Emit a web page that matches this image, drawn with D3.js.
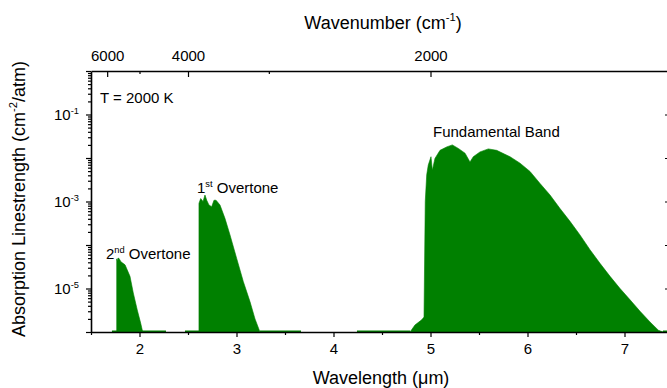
<!DOCTYPE html>
<html>
<head>
<meta charset="utf-8">
<script src="https://cdn.jsdelivr.net/npm/d3@7"></script>
<style>
  body { margin: 0; background: #fff; }
  svg text { font-family: "Liberation Sans", Arial, Helvetica, sans-serif; fill: #000; }
</style>
</head>
<body>
<svg id="chart" width="667" height="388"></svg>
<script>
// CO absorption linestrength envelopes at T = 2000 K
// wavelength in micrometres, linestrength in cm^-2/atm
const secondOvertoneWl = [1.765, 1.772, 1.778, 1.789, 1.809, 1.851, 1.902, 1.936, 1.977, 2.012, 2.033];
const secondOvertoneS  = [4.8e-5, 4.3e-5, 5.0e-5, 4.9e-5, 4.1e-5, 3.5e-5, 1.9e-5, 7.9e-6, 3.2e-6, 1.6e-6, 1.0e-6];

const firstOvertoneWl = [2.613, 2.631, 2.655, 2.675, 2.693, 2.716, 2.744, 2.768, 2.789, 2.830, 2.881, 2.933, 3.002, 3.070, 3.139, 3.191, 3.242];
const firstOvertoneS  = [9.1e-4, 1.17e-3, 1.0e-3, 1.41e-3, 1.07e-3, 8.3e-4, 7.6e-4, 1.07e-3, 1.07e-3, 8.3e-4, 4.1e-4, 1.7e-4, 4.9e-5, 1.45e-5, 5.0e-6, 2.0e-6, 1.0e-6];

const fundamentalWl = [4.789, 4.840, 4.909, 4.933, 4.946, 4.961, 4.977, 5.005, 5.019, 5.046, 5.098, 5.167, 5.225, 5.287, 5.356, 5.407, 5.441, 5.510, 5.596, 5.682, 5.820, 5.923, 6.026, 6.129, 6.232, 6.335, 6.438, 6.541, 6.644, 6.747, 6.851, 6.954, 7.057, 7.160, 7.263, 7.349, 7.397];
const fundamentalS  = [1.0e-6, 1.45e-6, 1.9e-6, 2.2e-6, 1.0e-3, 4.1e-3, 6.9e-3, 1.07e-2, 5.2e-3, 9.8e-3, 1.5e-2, 1.8e-2, 2.0e-2, 1.66e-2, 1.29e-2, 8.1e-3, 1.07e-2, 1.38e-2, 1.62e-2, 1.5e-2, 1.07e-2, 7.6e-3, 4.9e-3, 2.6e-3, 1.41e-3, 6.9e-4, 3.5e-4, 1.7e-4, 7.8e-5, 3.8e-5, 1.9e-5, 1.0e-5, 5.5e-6, 3.0e-6, 1.7e-6, 1.1e-6, 1.0e-6];

// wavelength ranges holding only very weak lines near the floor
const weakLineStart = [1.716, 2.026, 2.469, 3.242, 4.242, 7.397];
const weakLineEnd   = [1.768, 2.273, 2.624, 3.665, 4.789, 7.5];

// axis ticks
const wlMajorTicks = [2, 3, 4, 5, 6, 7];
const wlMinorTicks = [1.5, 2.5, 3.5, 4.5, 5.5, 6.5, 7.5];
const wnMajorTicks = [6000, 4000, 2000];
const wnMinorTicks = [5000, 3000];
const sDecadeTicks = [1, 1e-1, 1e-2, 1e-3, 1e-4, 1e-5, 1e-6];
const sLabelTicks  = [1e-1, 1e-3, 1e-5];

const bandColor = "#008000";
const tickFont = 15;
const titleFont = 18;
const noteFont = 15;
const svg = d3.select("#chart");

const x = d3.scaleLinear().domain([1.5, 7.5]).range([91, 673]);
const y = d3.scaleLog().domain([1e-6, 1]).range([332, 71]);

const floor = 1e-6;
const area = d3.area()
  .x(d => x(d[0]))
  .y0(y(floor))
  .y1(d => y(d[1]));

const bands = [
  d3.zip(secondOvertoneWl, secondOvertoneS),
  d3.zip(firstOvertoneWl, firstOvertoneS),
  d3.zip(fundamentalWl, fundamentalS)
];

const plot = svg.append("g");
plot.selectAll("path.band")
  .data(bands)
  .join("path")
  .attr("class", "band")
  .attr("d", area)
  .attr("fill", bandColor)
  .attr("stroke", bandColor)
  .attr("stroke-width", 0.6);

// weak-line floor segments
plot.selectAll("rect.weak")
  .data(d3.zip(weakLineStart, weakLineEnd))
  .join("rect")
  .attr("class", "weak")
  .attr("x", d => x(d[0]))
  .attr("width", d => x(d[1]) - x(d[0]))
  .attr("y", y(floor) - 1.5)
  .attr("height", 2)
  .attr("fill", bandColor);

// superscript-aware text helper: parts are [string, isSuperscript]
function richText(sel, parts, size) {
  sel.attr("font-size", size);
  const rise = size * 0.42;
  let pendingDy = 0;
  parts.forEach(([str, sup]) => {
    const t = sel.append("tspan").text(str);
    if (sup) {
      t.attr("dy", -rise).attr("font-size", size * 0.62);
      pendingDy = rise;
    } else {
      t.attr("font-size", size);
      if (pendingDy) { t.attr("dy", pendingDy); pendingDy = 0; }
    }
  });
  return sel;
}

function styleAxis(g) {
  g.selectAll("path.domain").attr("stroke", "#000").attr("stroke-width", 1.6);
  g.selectAll(".tick line").attr("stroke", "#000").attr("stroke-width", 1.2);
  g.selectAll(".tick text").attr("font-size", tickFont).attr("fill", "#000")
    .attr("font-family", "Liberation Sans, Arial, sans-serif");
}

// bottom wavelength axis
const gBottom = svg.append("g").attr("transform", `translate(0,${y(floor)})`)
  .call(d3.axisBottom(x).tickValues(wlMajorTicks).tickSize(5).tickPadding(6).tickFormat(d3.format("d")).tickSizeOuter(0));
styleAxis(gBottom);
const gBottomMinor = svg.append("g").attr("transform", `translate(0,${y(floor)})`)
  .call(d3.axisBottom(x).tickValues(wlMinorTicks).tickSize(3).tickFormat("").tickSizeOuter(0));
styleAxis(gBottomMinor);
gBottomMinor.select("path.domain").remove();
gBottomMinor.selectAll("text").remove();

// top wavenumber axis (cm^-1 = 10000 / um)
const gTop = svg.append("g").attr("transform", `translate(0,${y(1)})`)
  .call(d3.axisTop(x).tickValues(wnMajorTicks.map(v => 1e4 / v)).tickSizeInner(-6).tickSizeOuter(0).tickPadding(10)
    .tickFormat(d => Math.round(1e4 / d)));
styleAxis(gTop);
const gTopMinor = svg.append("g").attr("transform", `translate(0,${y(1)})`)
  .call(d3.axisTop(x).tickValues(wnMinorTicks.map(v => 1e4 / v)).tickSizeInner(-3).tickSizeOuter(0).tickFormat(""));
styleAxis(gTopMinor);
gTopMinor.select("path.domain").remove();
gTopMinor.selectAll("text").remove();

// left linestrength axis
const sMinorTicks = [];
sDecadeTicks.slice(1).forEach(dec => { for (let k = 2; k <= 9; k++) sMinorTicks.push(dec * k); });
const gLeft = svg.append("g").attr("transform", `translate(${x(1.5)},0)`)
  .call(d3.axisLeft(y).tickValues(sDecadeTicks).tickSize(5).tickPadding(7).tickFormat("").tickSizeOuter(0));
styleAxis(gLeft);
gLeft.selectAll(".tick text").remove();
const gLeftMinor = svg.append("g").attr("transform", `translate(${x(1.5)},0)`)
  .call(d3.axisLeft(y).tickValues(sMinorTicks).tickSize(3).tickFormat("").tickSizeOuter(0));
styleAxis(gLeftMinor);
gLeftMinor.select("path.domain").remove();
gLeftMinor.selectAll("text").remove();

gLeft.selectAll(".tick").filter(d => sLabelTicks.includes(d)).each(function(d) {
  const t = d3.select(this).append("text")
    .attr("x", -12).attr("dy", "0.36em").attr("text-anchor", "end");
  richText(t, [["10", false], [String(Math.round(Math.log10(d))), true]], tickFont);
});

// right mirror axis
const gRight = svg.append("g").attr("transform", `translate(${x(7.5)},0)`)
  .call(d3.axisRight(y).tickValues(sDecadeTicks).tickSizeInner(-8).tickSizeOuter(0).tickFormat(""));
styleAxis(gRight);
gRight.selectAll("text").remove();

// axis titles
svg.append("text").attr("x", 381).attr("y", 384).attr("text-anchor", "middle")
  .attr("font-size", titleFont).text("Wavelength (\u03BCm)");

richText(svg.append("text").attr("x", 383).attr("y", 29).attr("text-anchor", "middle"),
  [["Wavenumber (cm", false], ["-1", true], [")", false]], titleFont);

richText(svg.append("text").attr("transform", "translate(25,199) rotate(-90)").attr("text-anchor", "middle"),
  [["Absorption Linestrength (cm", false], ["-2", true], ["/atm)", false]], titleFont);

// annotations
svg.append("text").attr("x", 100).attr("y", 103).attr("font-size", noteFont).text("T = 2000 K");
svg.append("text").attr("x", 433).attr("y", 137).attr("font-size", noteFont).text("Fundamental Band");
richText(svg.append("text").attr("x", 197).attr("y", 193), [["1", false], ["st", true], [" Overtone", false]], noteFont);
richText(svg.append("text").attr("x", 106).attr("y", 259), [["2", false], ["nd", true], [" Overtone", false]], noteFont);
</script>
</body>
</html>
